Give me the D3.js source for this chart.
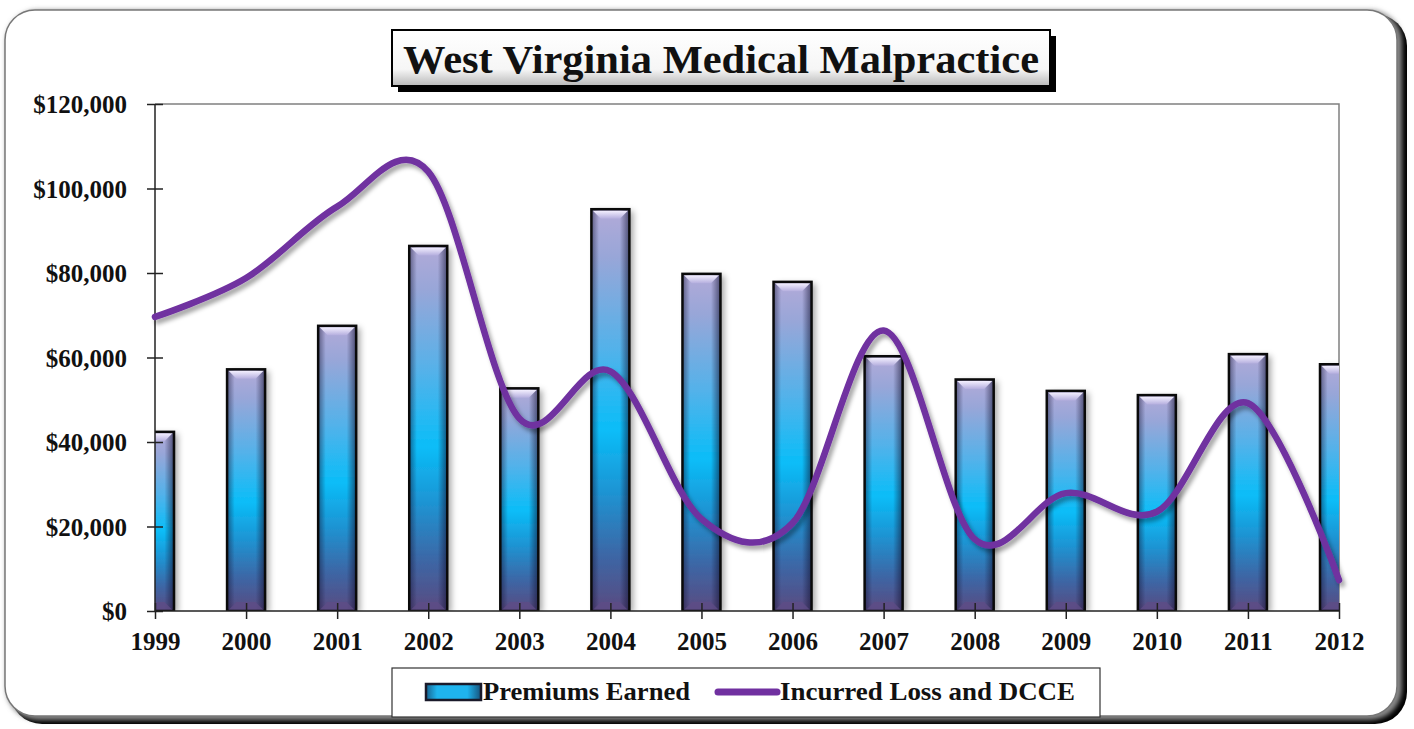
<!DOCTYPE html>
<html>
<head>
<meta charset="utf-8">
<script src="https://cdn.jsdelivr.net/npm/d3@7"></script>
<style>
  body { margin: 0; background: #fff; }
  text { font-family: "Liberation Serif", "Times New Roman", serif; font-weight: bold; fill: #111; }
</style>
</head>
<body>
<svg id="chart" width="1414" height="729"></svg>
<script>
const years = [1999, 2000, 2001, 2002, 2003, 2004, 2005, 2006, 2007, 2008, 2009, 2010, 2011, 2012];
const premiums = [42400, 57200, 67500, 86400, 52700, 95100, 79800, 77900, 60300, 54800, 52100, 51100, 60800, 58400];
const losses = [69600, 78800, 95700, 104000, 45600, 56700, 21800, 20800, 66400, 17000, 27900, 23500, 49200, 7300];
const yTicks = [0, 20000, 40000, 60000, 80000, 100000, 120000];
const seriesNames = ["Premiums Earned", "Incurred Loss and DCCE"];
const titleText = "West Virginia Medical Malpractice";

const svg = d3.select("#chart");
const plot = { left: 155, right: 1339, top: 104, bottom: 611 };

const defs = svg.append("defs");

// bar fill: lavender top, cyan middle, dark purple bottom
const barGrad = defs.append("linearGradient").attr("id", "barGrad")
    .attr("x1", 0).attr("y1", 0).attr("x2", 0).attr("y2", 1);
[[0, "#b2aad8"], [0.12, "#98a6d8"], [0.35, "#52b2ea"], [0.55, "#0abdf8"],
 [0.7, "#1d95d4"], [0.86, "#3c67a6"], [1, "#5a4a80"]]
    .forEach(s => barGrad.append("stop").attr("offset", s[0]).attr("stop-color", s[1]));

const edgeGrad = defs.append("linearGradient").attr("id", "edgeGrad")
    .attr("x1", 0).attr("y1", 0).attr("x2", 1).attr("y2", 0);
[[0, "#101030", 0.5], [0.2, "#101030", 0], [0.75, "#101030", 0], [1, "#101030", 0.6]]
    .forEach(s => edgeGrad.append("stop").attr("offset", s[0]).attr("stop-color", s[1]).attr("stop-opacity", s[2]));

const bevelGrad = defs.append("linearGradient").attr("id", "bevelGrad")
    .attr("x1", 0).attr("y1", 0).attr("x2", 0).attr("y2", 1);
bevelGrad.append("stop").attr("offset", 0).attr("stop-color", "#f4f0ff");
bevelGrad.append("stop").attr("offset", 1).attr("stop-color", "#b4aede");

const titleGrad = defs.append("linearGradient").attr("id", "titleGrad")
    .attr("x1", 0).attr("y1", 0).attr("x2", 0).attr("y2", 1);
titleGrad.append("stop").attr("offset", 0).attr("stop-color", "#ffffff");
titleGrad.append("stop").attr("offset", 0.7).attr("stop-color", "#f6f6f6");
titleGrad.append("stop").attr("offset", 1).attr("stop-color", "#b8b8b8");

const barShadow = defs.append("filter").attr("id", "barShadow")
    .attr("x", "-30%").attr("y", "-10%").attr("width", "160%").attr("height", "120%");
barShadow.append("feDropShadow").attr("dx", 4).attr("dy", 2).attr("stdDeviation", 3)
    .attr("flood-color", "#000").attr("flood-opacity", 0.35);

const lineShadow = defs.append("filter").attr("id", "lineShadow")
    .attr("x", "-5%").attr("y", "-10%").attr("width", "110%").attr("height", "120%");
lineShadow.append("feDropShadow").attr("dx", 3).attr("dy", 4).attr("stdDeviation", 2)
    .attr("flood-color", "#000").attr("flood-opacity", 0.35);

const frameBlur = defs.append("filter").attr("id", "frameBlur");
frameBlur.append("feGaussianBlur").attr("stdDeviation", 2.5);

defs.append("clipPath").attr("id", "plotClip")
  .append("rect")
    .attr("x", plot.left).attr("y", plot.top - 10)
    .attr("width", plot.right - plot.left).attr("height", plot.bottom - plot.top + 10);

// outer rounded frame with a dark shadow on the right and bottom
svg.append("rect")
    .attr("x", 10).attr("y", 14).attr("width", 1397).attr("height", 710)
    .attr("rx", 32).attr("fill", "#000");
svg.append("rect")
    .attr("x", 6).attr("y", 10).attr("width", 1396).attr("height", 710)
    .attr("rx", 32).attr("fill", "#8a8a8a").attr("filter", "url(#frameBlur)");
svg.append("rect")
    .attr("x", 5).attr("y", 10).attr("width", 1392).attr("height", 706)
    .attr("rx", 30).attr("fill", "#fff").attr("stroke", "#777").attr("stroke-width", 1.5);

const x = d3.scalePoint().domain(years).range([plot.left, plot.right]);
const y = d3.scaleLinear().domain([0, 120000]).range([plot.bottom, plot.top]);

// plot border (top and right)
svg.append("path")
    .attr("d", `M${plot.left},${plot.top}H${plot.right}V${plot.bottom}`)
    .attr("fill", "none").attr("stroke", "#808080").attr("stroke-width", 1.5);

// bars
const barW = 38;
const bars = svg.append("g").attr("clip-path", "url(#plotClip)")
  .selectAll("g.bar")
  .data(years.map((yr, i) => ({ year: yr, value: premiums[i] })))
  .join("g").attr("class", "bar");

bars.append("rect")
    .attr("x", d => x(d.year) - barW / 2)
    .attr("y", d => y(d.value))
    .attr("width", barW)
    .attr("height", d => y(0) - y(d.value))
    .attr("fill", "url(#barGrad)")
    .attr("filter", "url(#barShadow)");
bars.append("rect")
    .attr("x", d => x(d.year) - barW / 2)
    .attr("y", d => y(d.value))
    .attr("width", barW)
    .attr("height", d => y(0) - y(d.value))
    .attr("fill", "url(#edgeGrad)");
bars.append("path")
    .attr("d", d => {
        const x0 = x(d.year) - barW / 2 + 1.5, x1 = x(d.year) + barW / 2 - 1.5, t = y(d.value) + 1.5;
        return `M${x0},${t}L${x1},${t}L${x1 - 8},${t + 8}L${x0 + 8},${t + 8}Z`;
    })
    .attr("fill", "url(#bevelGrad)");
bars.append("path")
    .attr("d", d => {
        const x0 = x(d.year) - barW / 2 + 1.5, x1 = x(d.year) + barW / 2 - 1.5, b = y(0) - 1;
        return `M${x0},${b}L${x1},${b}L${x1 - 8},${b - 8}L${x0 + 8},${b - 8}Z`;
    })
    .attr("fill", "#5e4c86").attr("opacity", 0.8);
bars.append("rect")
    .attr("x", d => x(d.year) - barW / 2)
    .attr("y", d => y(d.value))
    .attr("width", barW)
    .attr("height", d => y(0) - y(d.value))
    .attr("fill", "none").attr("stroke", "#0a0a0a").attr("stroke-width", 2.5);

// axes
const yAxis = svg.append("g")
    .attr("transform", `translate(${plot.left},0)`)
    .call(d3.axisLeft(y).tickValues(yTicks).tickSize(8)
        .tickFormat(d => "$" + d3.format(",")(d)));
yAxis.selectAll(".tick line").attr("x2", 8).attr("x1", -8).attr("stroke", "#222").attr("stroke-width", 1.5);
yAxis.select(".domain").attr("stroke", "#222").attr("stroke-width", 1.5).attr("d", `M0,${plot.top}V${plot.bottom}`);
yAxis.selectAll(".tick text").attr("x", -28).attr("dy", "0.34em")
    .style("font-size", "25px").style("font-family", "Liberation Serif, serif").style("font-weight", "bold").attr("fill", "#111");

const xAxis = svg.append("g")
    .attr("transform", `translate(0,${plot.bottom})`)
    .call(d3.axisBottom(x).tickSize(8));
xAxis.selectAll(".tick line").attr("y1", -8).attr("y2", 8).attr("stroke", "#222").attr("stroke-width", 1.5);
xAxis.select(".domain").attr("stroke", "#222").attr("stroke-width", 1.5).attr("d", `M${plot.left},0H${plot.right}`);
xAxis.selectAll(".tick text").attr("y", 39).attr("dy", 0)
    .style("font-size", "25px").style("font-family", "Liberation Serif, serif").style("font-weight", "bold").attr("fill", "#111");

// smoothed loss line
const line = d3.line()
    .x((d, i) => x(years[i]))
    .y(d => y(d))
    .curve(d3.curveCardinal.tension(0));
svg.append("path")
    .datum(losses)
    .attr("d", line)
    .attr("fill", "none")
    .attr("stroke", "#7030a0")
    .attr("stroke-width", 6.5)
    .attr("stroke-linecap", "round")
    .attr("filter", "url(#lineShadow)");

// title box
svg.append("rect").attr("x", 398).attr("y", 36).attr("width", 658).attr("height", 56).attr("fill", "#000");
svg.append("rect").attr("x", 392).attr("y", 30).attr("width", 658).attr("height", 56)
    .attr("fill", "url(#titleGrad)").attr("stroke", "#000").attr("stroke-width", 2);
svg.append("text")
    .attr("x", 721).attr("y", 73)
    .attr("text-anchor", "middle")
    .attr("textLength", 636).attr("lengthAdjust", "spacingAndGlyphs")
    .style("font-size", "40px")
    .text(titleText);

// legend
const legend = svg.append("g");
legend.append("rect").attr("x", 392).attr("y", 668).attr("width", 708).attr("height", 49)
    .attr("fill", "#fff").attr("stroke", "#333").attr("stroke-width", 1.2);
legend.append("rect").attr("x", 426).attr("y", 684).attr("width", 55).attr("height", 16)
    .attr("fill", "#1fb4ee").attr("stroke", "#223", "stroke-width", 2);
legend.append("rect").attr("x", 426).attr("y", 684).attr("width", 55).attr("height", 16)
    .attr("fill", "url(#edgeGrad)").attr("stroke", "#1a1a2a").attr("stroke-width", 2.5);
legend.append("text").attr("x", 483).attr("y", 700)
    .attr("textLength", 207).attr("lengthAdjust", "spacingAndGlyphs")
    .style("font-size", "25px").text(seriesNames[0]);
legend.append("line").attr("x1", 718).attr("x2", 777).attr("y1", 692).attr("y2", 692)
    .attr("stroke", "#7030a0").attr("stroke-width", 7).attr("stroke-linecap", "round");
legend.append("text").attr("x", 780).attr("y", 700)
    .attr("textLength", 295).attr("lengthAdjust", "spacingAndGlyphs")
    .style("font-size", "25px").text(seriesNames[1]);
</script>
</body>
</html>
